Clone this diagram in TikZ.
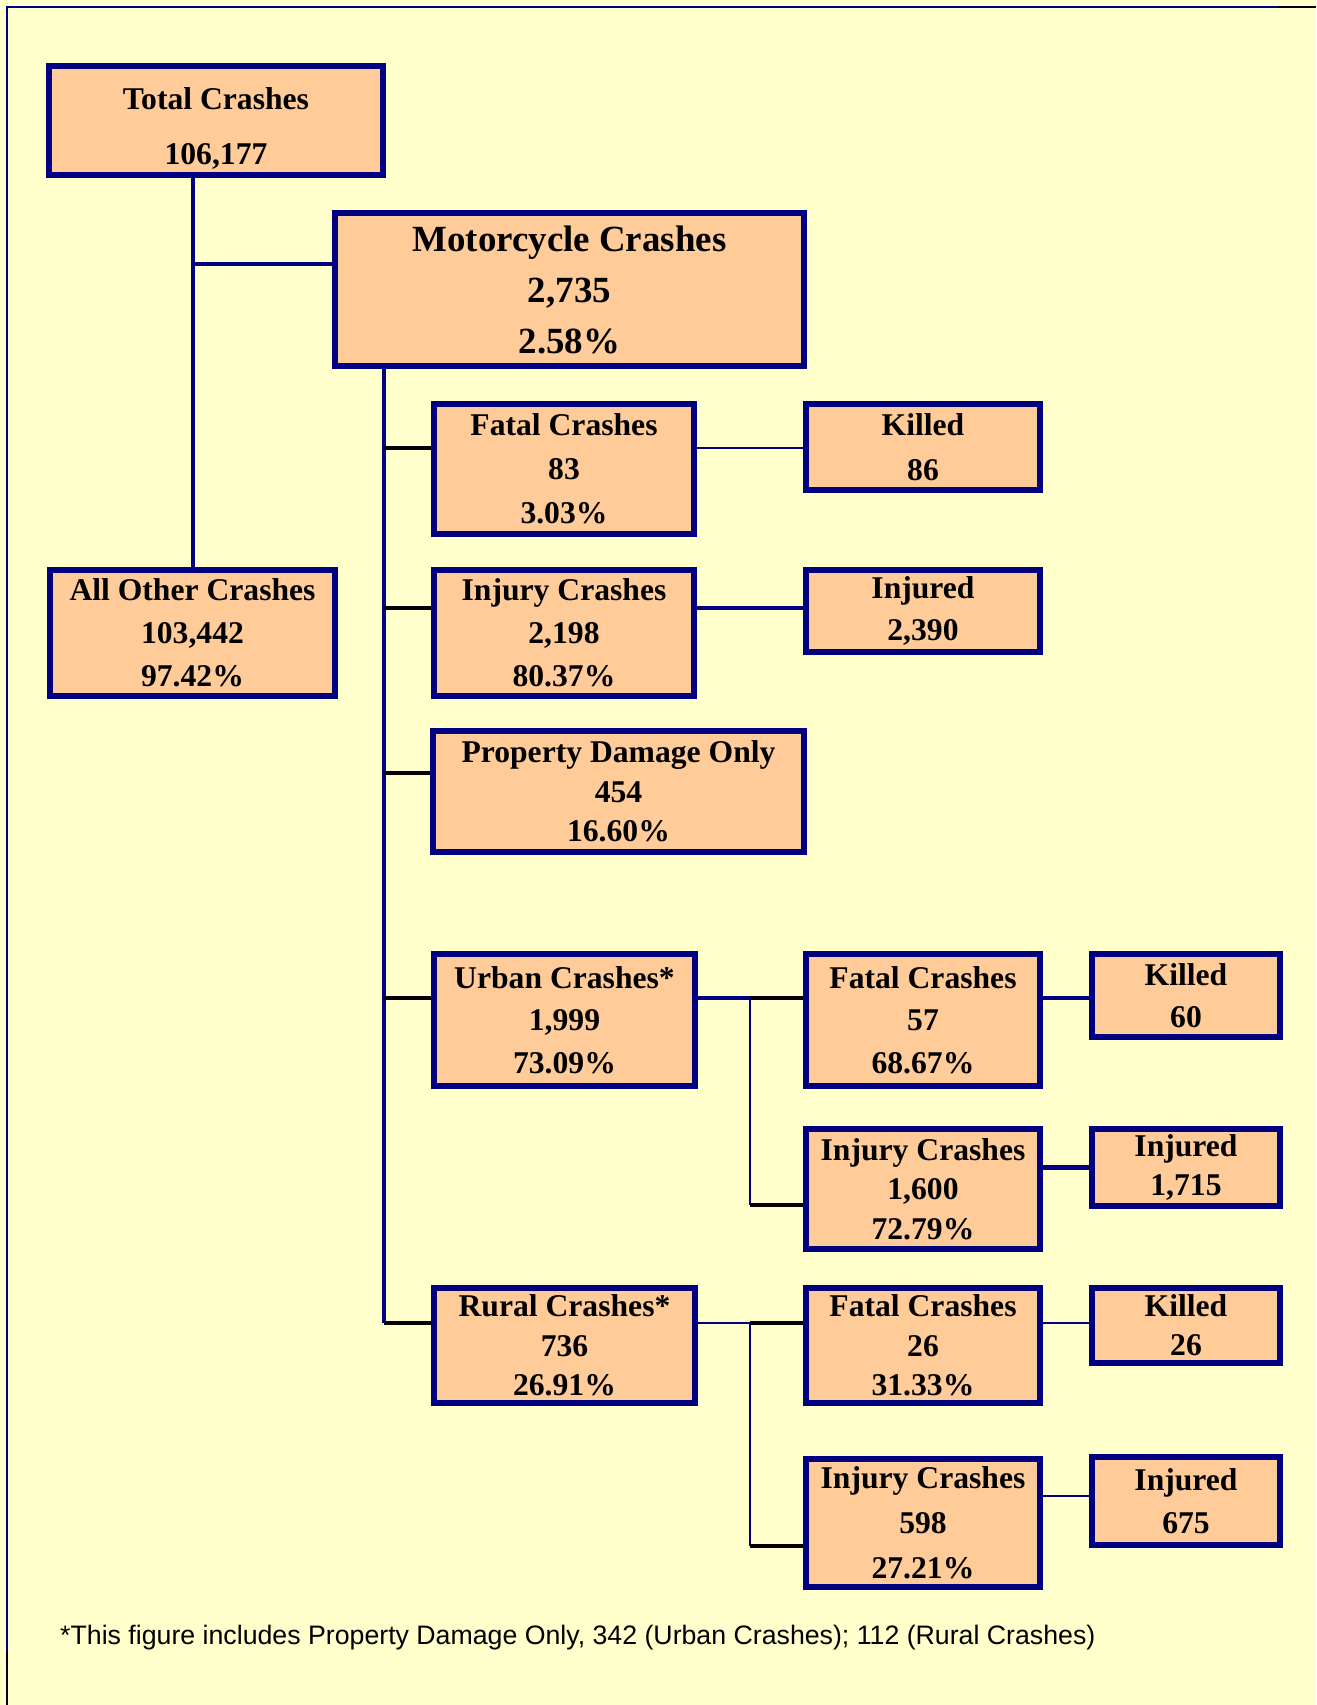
\documentclass[tikz,border=0pt]{standalone}
\usepackage{fontspec}
\setmainfont{Liberation Serif}
\setsansfont{Liberation Sans}
\usetikzlibrary{positioning}

\definecolor{boxline}{RGB}{0,0,128}
\definecolor{boxfill}{RGB}{255,204,153}
\definecolor{paper}{RGB}{255,255,204}

\tikzset{
  crashbox/.style={draw=boxline, fill=boxfill, line width=3.4pt, inner sep=0pt,
                   align=center, font=\bfseries\fontsize{18pt}{#1}\selectfont},
  boxsize/.style 2 args={minimum width=#1*0.2mm, minimum height=#2*0.2mm},
  link/.style={draw=boxline, line width=1.8pt},
  stub/.style={draw=black, line width=1.8pt},
}

\begin{document}
\begin{tikzpicture}[x=0.2mm, y=-0.2mm]
    \fill[paper] (0,0) rectangle (1316,1705);
    \useasboundingbox (0,0) rectangle (1316,1705);
    \draw[boxline, line width=1.7pt] (7,1652) -- (7,7) -- (1278,7);
    \draw[black, line width=1.7pt] (1278,7) -- (1316,7);
    \draw[black, line width=1.7pt] (7,1652) -- (7,1705);

    \node[crashbox=31.3pt, boxsize={334}{109}] (total) at (216,120.5) {\rule{0pt}{22pt}Total Crashes\\106,177};
    \node[crashbox=29pt, boxsize={469}{153}, font=\bfseries\fontsize{21pt}{29pt}\selectfont]
         (moto) at (569.5,289.5) {Motorcycle Crashes\\2,735\\2.58\%};
    \node[crashbox=24.5pt, boxsize={285}{126}] (other) at (192.5,633) {All Other Crashes\\103,442\\97.42\%};

    \node[crashbox=25pt, boxsize={260}{130}] (fatal) at (564,469) {Fatal Crashes\\83\\3.03\%};
    \node[crashbox=25.6pt, boxsize={234}{86}] (killed) at (923,447) {Killed\\86};
    \node[crashbox=24.5pt, boxsize={260}{126}] (injury) at (564,633) {Injury Crashes\\2,198\\80.37\%};
    \node[crashbox=24pt, boxsize={234}{82}] (injured) at (923,611) {Injured\\2,390};
    \node[crashbox=22.6pt, boxsize={371}{121}] (pdo) at (618.5,791.5) {Property Damage Only\\454\\16.60\%};

    \node[crashbox=24.1pt, boxsize={261}{132}] (urban) at (564.5,1020) {Urban Crashes*\\1,999\\73.09\%};
    \node[crashbox=24.1pt, boxsize={234}{132}] (ufatal) at (923,1020) {Fatal Crashes\\57\\68.67\%};
    \node[crashbox=24.1pt, boxsize={188}{83}] (ukilled) at (1186,995.5) {Killed\\60};
    \node[crashbox=22.6pt, boxsize={234}{120}] (uinjury) at (923,1189) {Injury Crashes\\1,600\\72.79\%};
    \node[crashbox=22.3pt, boxsize={188}{77}] (uinjured) at (1186,1167.5) {Injured\\1,715};

    \node[crashbox=22.6pt, boxsize={261}{115}] (rural) at (564.5,1345.5) {Rural Crashes*\\736\\26.91\%};
    \node[crashbox=22.6pt, boxsize={234}{115}] (rfatal) at (923,1345.5) {Fatal Crashes\\26\\31.33\%};
    \node[crashbox=22.3pt, boxsize={188}{75}] (rkilled) at (1186,1325.5) {Killed\\26};
    \node[crashbox=25.6pt, boxsize={234}{128}] (rinjury) at (923,1523) {Injury Crashes\\598\\27.21\%};
    \node[crashbox=24.7pt, boxsize={188}{88}] (rinjured) at (1186,1501) {Injured\\675};

    \node[anchor=west, font=\sffamily\fontsize{15.2pt}{17pt}\selectfont] (note) at (54,1638)
         {*This figure includes Property Damage Only, 342 (Urban Crashes); 112 (Rural Crashes)};

    % total -> other, motorcycle
    \coordinate (tj) at (193,264);
    \draw[link, line width=2.6pt] (total.south -| tj) -- (other.north -| tj);
    \draw[link] (tj) -- (tj -| moto.west);

    % motorcycle trunk
    \coordinate (mf) at (384,448);
    \coordinate (mi) at (384,608);
    \coordinate (mp) at (384,773);
    \coordinate (mu) at (384,998);
    \coordinate (mr) at (384,1323);
    \draw[link] (moto.south -| mr) -- (mr);
    \draw[stub] (mf) -- (mf -| fatal.west);
    \draw[stub, line width=2.3pt] (mi) -- (mi -| injury.west);
    \draw[stub] (mp) -- (mp -| pdo.west);
    \draw[stub, line width=2.3pt] (mu) -- (mu -| urban.west);
    \draw[stub] (mr) -- (mr -| rural.west);
    \draw[link, line width=1.2pt] (mf -| fatal.east) -- (mf -| killed.west);
    \draw[link, line width=2.3pt] (mi -| injury.east) -- (mi -| injured.west);

    % urban
    \coordinate (uj) at (750,998);
    \coordinate (uk) at (750,1205);
    \draw[link] (mu -| urban.east) -- (uj);
    \draw[stub, line width=2.3pt] (uj) -- (uj -| ufatal.west);
    \draw[link, line width=1.4pt] (uj) -- (uk);
    \draw[stub] (uk) -- (uk -| uinjury.west);
    \draw[link, line width=2.3pt] (uj -| ufatal.east) -- (uj -| ukilled.west);
    \draw[link, line width=2.3pt] (uinjured.west -| uinjury.east) -- (uinjured.west);

    % rural
    \coordinate (rj) at (750,1323);
    \coordinate (rk) at (750,1546);
    \coordinate (ri) at (1043,1496);
    \draw[link, line width=1.4pt] (mr -| rural.east) -- (rj);
    \draw[stub] (rj) -- (rj -| rfatal.west);
    \draw[link, line width=1.4pt] (rj) -- (rk);
    \draw[stub] (rk) -- (rk -| rinjury.west);
    \draw[link, line width=1.4pt] (rj -| rfatal.east) -- (rj -| rkilled.west);
    \draw[link, line width=1.4pt] (ri) -- (ri -| rinjured.west);
\end{tikzpicture}
\end{document}
